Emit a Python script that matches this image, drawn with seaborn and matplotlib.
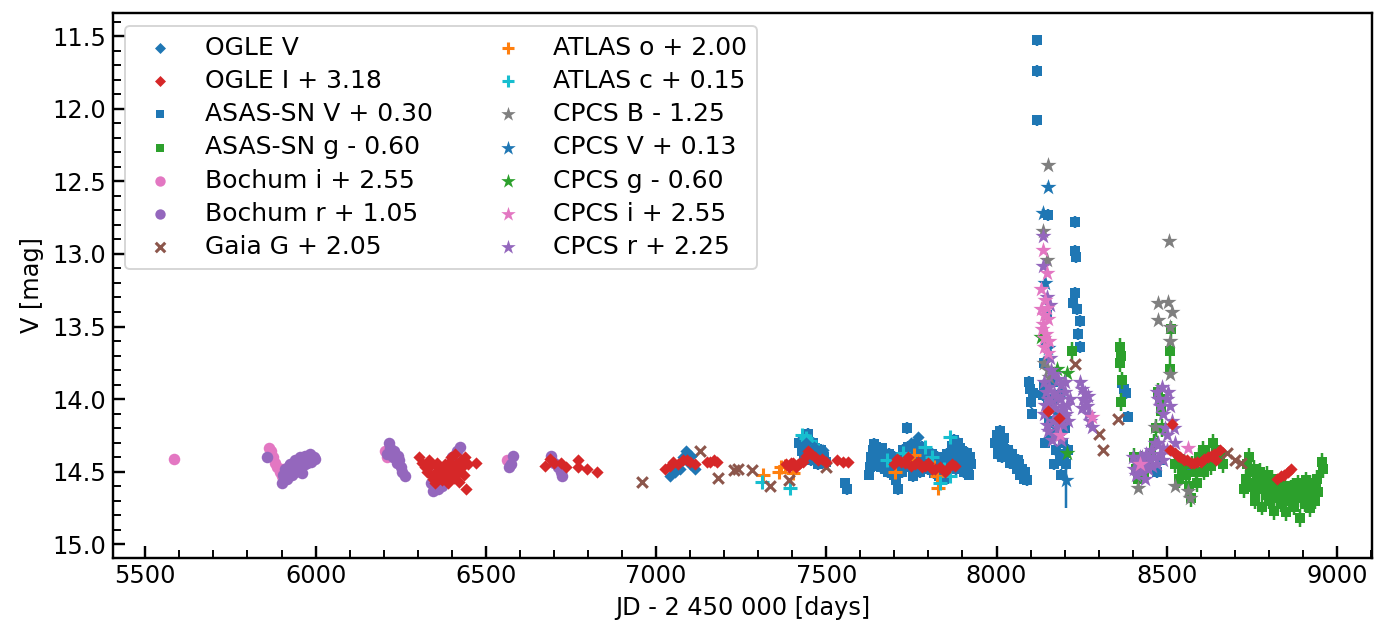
import numpy as np
import pandas as pd
import matplotlib
matplotlib.use("Agg")
import matplotlib.pyplot as plt
from matplotlib.ticker import MultipleLocator
import seaborn as sns

# ---- data (displayed, already shifted magnitudes) ----
ogle_v_jd = [7041, 7055, 7070, 7080, 7088, 7095, 7104, 7114, 7100,
             7428, 7440, 7452, 7465, 7480, 7491, 7770, 7750]
ogle_v_mag = [14.53, 14.50, 14.48, 14.40, 14.36, 14.38, 14.39, 14.48, 14.45,
              14.33, 14.30, 14.37, 14.33, 14.36, 14.35, 14.26, 14.30]

ogle_i_jd = [6305, 6312, 6320, 6328, 6335, 6340, 6345, 6350, 6355, 6360, 6365, 6370,
             6375, 6380, 6385, 6390, 6395, 6398, 6402, 6406, 6410, 6413, 6418, 6422,
             6426, 6430, 6435, 6440, 6443, 6447, 6470, 6332, 6358, 6388, 6416,
             6673, 6688, 6700, 6722, 6735, 6770, 6772, 6796, 6827,
             7026, 7040, 7051, 7065, 7080, 7092, 7100, 7114, 7150, 7158, 7170, 7178,
             7381, 7390, 7395, 7403, 7410, 7418, 7423, 7432, 7440, 7447, 7455, 7467,
             7475, 7486, 7500, 7530, 7550, 7565,
             7700, 7707, 7718, 7730, 7740, 7750, 7760, 7770, 7780, 7790, 7800, 7810,
             7820, 7835, 7850, 7860, 7870, 7878,
             8152, 8184,
             8514, 8510, 8524, 8532, 8540, 8550, 8560, 8570, 8580, 8590, 8600, 8610,
             8620, 8630, 8640, 8645, 8655,
             8825, 8835, 8845, 8855, 8865]
ogle_i_mag = [14.40, 14.44, 14.47, 14.50, 14.46, 14.52, 14.55, 14.58, 14.50, 14.47, 14.53, 14.56,
              14.49, 14.45, 14.52, 14.58, 14.43, 14.40, 14.48, 14.54, 14.38, 14.45, 14.51, 14.57,
              14.42, 14.47, 14.52, 14.40, 14.62, 14.45, 14.44, 14.42, 14.44, 14.48, 14.47,
              14.46, 14.41, 14.44, 14.44, 14.47, 14.42, 14.47, 14.48, 14.50,
              14.48, 14.46, 14.43, 14.45, 14.42, 14.42, 14.43, 14.45, 14.43, 14.43, 14.42, 14.43,
              14.45, 14.47, 14.44, 14.44, 14.47, 14.45, 14.44, 14.43, 14.39, 14.36, 14.38, 14.40,
              14.42, 14.41, 14.43, 14.42, 14.43, 14.43,
              14.45, 14.41, 14.43, 14.44, 14.40, 14.46, 14.45, 14.43, 14.47, 14.46, 14.44, 14.48,
              14.48, 14.47, 14.50, 14.47, 14.45, 14.46,
              14.08, 14.13,
              14.17, 14.35, 14.37, 14.39, 14.40, 14.42, 14.42, 14.44, 14.44, 14.43, 14.43, 14.41,
              14.40, 14.39, 14.38, 14.42, 14.35,
              14.55, 14.53, 14.52, 14.50, 14.48]

asas_v_jd = [7420, 7428, 7435, 7442, 7445, 7450, 7456, 7462, 7470, 7477, 7485, 7492, 7500,
             7432, 7466, 7488,
             7555, 7560,
             7625, 7628, 7632, 7636, 7640, 7645, 7650, 7655, 7660, 7665, 7670, 7675, 7680,
             7685, 7690, 7695, 7700, 7705, 7711, 7716, 7720, 7725, 7730, 7736, 7740, 7745,
             7750, 7755, 7760, 7765, 7770, 7775, 7780, 7785, 7790, 7795, 7800, 7805, 7810,
             7815, 7820, 7825, 7830, 7835, 7840, 7845, 7850, 7855,
             7630, 7642, 7652, 7662, 7672, 7682, 7698, 7708, 7722, 7742, 7758, 7772, 7788,
             7802, 7818, 7832, 7848,
             7862, 7866, 7870, 7874, 7878, 7882, 7886, 7890, 7895, 7900, 7905, 7910, 7915,
             7920, 7925, 7868, 7880, 7892, 7902, 7912, 7922,
             7995, 8000, 8005, 8010, 8015, 8020, 8025, 8030, 8035, 8040, 8045, 8050, 8055,
             8060, 8065, 8070, 8075, 8080, 8085, 8090, 8003, 8012, 8022, 8042, 8062, 8082,
             8095, 8097, 8100, 8103, 8108,
             8118, 8118, 8118,
             8152, 8148, 8145, 8140, 8138, 8135, 8150, 8165, 8170, 8180, 8186, 8195, 8200,
             8205, 8210, 8190, 8155, 8160, 8175, 8185, 8198, 8143, 8168,
             8230, 8230, 8232, 8230, 8226, 8245, 8240, 8245, 8236,
             8368, 8375, 8380, 8386,
             8470, 8480, 8560]
asas_v_mag = [14.30, 14.36, 14.40, 14.27, 14.24, 14.33, 14.42, 14.30, 14.38, 14.45, 14.35, 14.40, 14.43,
              14.32, 14.34, 14.44,
              14.58, 14.62,
              14.52, 14.47, 14.40, 14.35, 14.31, 14.33, 14.38, 14.43, 14.47, 14.34, 14.40, 14.45, 14.50,
              14.38, 14.44, 14.48, 14.52, 14.56, 14.62, 14.50, 14.40, 14.35, 14.45, 14.20, 14.33, 14.39,
              14.47, 14.53, 14.31, 14.42, 14.36, 14.50, 14.33, 14.40, 14.45, 14.38, 14.48, 14.43, 14.38,
              14.51, 14.45, 14.40, 14.53, 14.47, 14.42, 14.55, 14.45, 14.38,
              14.44, 14.38, 14.46, 14.40, 14.48, 14.42, 14.40, 14.46, 14.50, 14.44, 14.40, 14.47, 14.37,
              14.42, 14.40, 14.44, 14.50,
              14.45, 14.38, 14.32, 14.28, 14.35, 14.42, 14.30, 14.38, 14.45, 14.36, 14.50, 14.42, 14.47,
              14.52, 14.45, 14.44, 14.48, 14.34, 14.42, 14.37, 14.40,
              14.30, 14.25, 14.35, 14.22, 14.40, 14.30, 14.36, 14.40, 14.35, 14.44, 14.38, 14.45, 14.42,
              14.48, 14.45, 14.52, 14.48, 14.55, 14.50, 14.56, 14.38, 14.30, 14.27, 14.40, 14.42, 14.50,
              13.88, 13.93, 14.02, 14.10, 13.96,
              11.53, 11.74, 12.08,
              12.73, 13.42, 13.60, 13.75, 13.90, 13.97, 14.05, 13.88, 14.00, 14.10, 14.42, 14.30, 14.20,
              14.45, 14.35, 14.52, 14.15, 14.25, 14.35, 14.22, 14.38, 14.30, 14.45,
              12.78, 12.98, 13.02, 13.27, 13.34, 13.46, 13.55, 13.64, 13.38,
              13.89, 13.93, 13.96, 14.12,
              14.50, 14.42, 14.50]
asas_v_err = 0.04

asas_g_jd = [8221,
             8363, 8365, 8363, 8368, 8366,
             8405, 8410, 8415, 8420, 8425, 8432, 8440, 8448, 8455, 8462, 8468,
             8475, 8480, 8482, 8485,
             8509, 8509, 8512,
             8525, 8535, 8545, 8555, 8565, 8575, 8585, 8595, 8605, 8615, 8625, 8635, 8645,
             8655, 8665, 8570, 8590, 8550, 8610, 8630,
             8728, 8732, 8736, 8740, 8745, 8750, 8755, 8760, 8765, 8770, 8775, 8780, 8785,
             8790, 8795, 8800, 8805, 8810, 8815, 8820, 8825, 8830, 8835, 8840, 8845, 8850,
             8855, 8860, 8865, 8870, 8875, 8880, 8885, 8890, 8895, 8900, 8905, 8910, 8915,
             8920, 8925, 8930, 8935, 8940, 8945, 8955, 8960,
             8742, 8758, 8772, 8788, 8802, 8818, 8832, 8848, 8862, 8878, 8892, 8908, 8922, 8938]
asas_g_mag = [13.67,
              13.64, 13.70, 13.75, 13.87, 14.02,
              14.40, 14.48, 14.55, 14.45, 14.42, 14.50, 14.45, 14.40, 14.38, 14.30, 14.20,
              13.95, 14.00, 14.08, 14.20,
              13.67, 13.79, 13.52,
              14.45, 14.55, 14.48, 14.52, 14.60, 14.45, 14.50, 14.40, 14.35, 14.45, 14.40, 14.30, 14.35,
              14.38, 14.45, 14.68, 14.58, 14.44, 14.50, 14.46,
              14.62, 14.55, 14.45, 14.40, 14.50, 14.60, 14.48, 14.70, 14.55, 14.62, 14.50, 14.74, 14.58,
              14.66, 14.52, 14.70, 14.60, 14.55, 14.77, 14.62, 14.68, 14.58, 14.72, 14.64, 14.60, 14.78,
              14.66, 14.70, 14.62, 14.60, 14.74, 14.66, 14.58, 14.82, 14.68, 14.62, 14.72, 14.56, 14.66,
              14.75, 14.62, 14.58, 14.70, 14.55, 14.64, 14.43, 14.48,
              14.58, 14.64, 14.56, 14.62, 14.64, 14.58, 14.64, 14.60, 14.66, 14.62, 14.60, 14.66, 14.60, 14.62]
asas_g_err = 0.06

bochum_i_jd = [5585, 5862, 5868, 5875, 5882, 5888, 5895, 5900, 5905, 6205, 6210, 6563]
bochum_i_mag = [14.415, 14.34, 14.36, 14.40, 14.44, 14.47, 14.50, 14.53, 14.48, 14.36, 14.40, 14.42]

bochum_r_jd = [5858, 5902, 5905, 5910, 5915, 5920, 5925, 5930, 5935, 5940, 5945, 5950, 5955,
               5960, 5965, 5970, 5975, 5980, 5985, 5990, 5995, 5940, 5960,
               5912, 5922, 5932, 5948, 5958, 5968, 5978, 5988, 5998, 5952, 5972,
               6210, 6215, 6220, 6225, 6230, 6235, 6240, 6245, 6250, 6255, 6262, 6228, 6242,
               6340, 6346, 6360, 6370, 6400, 6415, 6424, 6430,
               6567, 6575, 6580,
               6690, 6700, 6712, 6720, 6725]
bochum_r_mag = [14.40, 14.575, 14.52, 14.48, 14.55, 14.50, 14.45, 14.52, 14.47, 14.42, 14.49, 14.44, 14.40,
                14.46, 14.42, 14.39, 14.44, 14.40, 14.38, 14.42, 14.40, 14.50, 14.51,
                14.53, 14.46, 14.49, 14.46, 14.43, 14.45, 14.41, 14.43, 14.41, 14.48, 14.40,
                14.38, 14.30, 14.34, 14.38, 14.36, 14.41, 14.44, 14.42, 14.47, 14.50, 14.53, 14.40, 14.39,
                14.58, 14.63, 14.62, 14.60, 14.40, 14.36, 14.33, 14.45,
                14.47, 14.45, 14.39,
                14.39, 14.44, 14.47, 14.50, 14.53]

gaia_jd = [6960, 7129, 7181, 7230, 7241, 7283, 7336, 7391, 7500,
           8230, 8302, 8314, 8356, 8676, 8700, 8718]
gaia_mag = [14.57, 14.36, 14.54, 14.49, 14.48, 14.49, 14.60, 14.56, 14.47,
            13.76, 14.24, 14.35, 14.14, 14.37, 14.42, 14.44]

atlas_o_jd = [7315, 7362, 7368, 7380, 7403, 7702, 7740, 7758, 7815, 7824, 7829]
atlas_o_mag = [14.52, 14.50, 14.47, 14.46, 14.51, 14.50, 14.42, 14.385, 14.47, 14.53, 14.61]

atlas_c_jd = [7310, 7393, 7428, 7440, 7452, 7475, 7677, 7726, 7790, 7810, 7834, 7845, 7863, 7863]
atlas_c_mag = [14.57, 14.61, 14.25, 14.27, 14.29, 14.35, 14.42, 14.37, 14.33, 14.40, 14.58, 14.48, 14.26, 14.53]

cpcs_b_jd = [8137, 8147, 8152, 8140, 8150, 8155,
             8416, 8465, 8475, 8475, 8505, 8507, 8514, 8509, 8509, 8509, 8524, 8563, 8568]
cpcs_b_mag = [12.84, 13.04, 12.39, 13.75, 13.80, 13.85,
              14.615, 14.19, 13.34, 13.455, 13.33, 12.91, 13.40, 13.50, 13.60, 13.83, 14.60, 14.63, 14.68]

cpcs_v_jd = [8152, 8135, 8142, 8150, 8175, 8190, 8204]
cpcs_v_mag = [12.54, 12.72, 13.20, 13.65, 14.20, 13.95, 14.56]
cpcs_v_err = [0.03, 0.03, 0.04, 0.05, 0.08, 0.06, 0.19]

cpcs_g_jd = [8130, 8177, 8206, 8208, 8470]
cpcs_g_mag = [13.57, 13.79, 13.82, 14.37, 14.30]

cpcs_i_jd = [8137, 8147, 8132, 8130, 8140, 8135, 8150, 8145, 8155, 8140, 8148,
             8133, 8143, 8152, 8138, 8186, 8279, 8563, 8420]
cpcs_i_mag = [12.97, 13.13, 13.24, 13.38, 13.42, 13.48, 13.45, 13.55, 13.60, 13.64, 13.37,
              13.52, 13.32, 13.68, 13.58, 14.25, 14.12, 14.34, 14.45]

cpcs_r_jd = [8135, 8137, 8147, 8157, 8160, 8170, 8180, 8190, 8200, 8140, 8145, 8150, 8160,
             8172, 8185, 8195, 8205, 8140, 8148, 8165, 8180, 8195, 8210, 8175, 8190, 8215, 8200,
             8155, 8168, 8178, 8188, 8198, 8208, 8150, 8162, 8182, 8158, 8142,
             8245, 8250, 8255, 8260, 8265, 8270, 8275, 8279, 8262, 8252, 8268,
             8400, 8405, 8410, 8415, 8420, 8425, 8430, 8435, 8440, 8445, 8450, 8455, 8460,
             8465, 8470, 8480, 8490, 8500, 8412, 8428, 8442, 8458, 8475, 8488,
             8470, 8475, 8480, 8485, 8490, 8500, 8505, 8510, 8515, 8520, 8524, 8500, 8495]
cpcs_r_mag = [12.88, 13.08, 13.30, 13.35, 13.80, 13.83, 13.86, 13.90, 13.88, 13.88, 13.95, 14.00, 14.02,
              14.06, 14.00, 14.05, 14.10, 14.10, 14.18, 14.15, 14.20, 14.18, 14.15, 14.25, 14.28, 14.00, 13.95,
              13.92, 13.96, 13.98, 14.08, 14.12, 14.04, 14.22, 14.28, 14.12, 13.72, 14.04,
              13.88, 13.93, 14.00, 13.96, 14.05, 14.10, 14.15, 14.19, 14.02, 14.06, 13.98,
              14.40, 14.48, 14.52, 14.45, 14.40, 14.50, 14.44, 14.55, 14.38, 14.48, 14.42, 14.35, 14.40,
              14.30, 14.45, 14.38, 14.42, 14.35, 14.44, 14.40, 14.46, 14.46, 14.30, 14.34,
              13.95, 14.00, 14.05, 13.92, 14.10, 14.00, 13.95, 14.05, 14.15, 14.20, 14.30, 14.25, 14.20]

# label, jd, mag, yerr, marker, colour, size (pt), zorder
series = [
    ("OGLE V", ogle_v_jd, ogle_v_mag, None, "D", "tab:blue", 4.5, 3.0),
    ("OGLE I + 3.18", ogle_i_jd, ogle_i_mag, None, "D", "tab:red", 4.5, 3.1),
    ("ASAS-SN V + 0.30", asas_v_jd, asas_v_mag, asas_v_err, "s", "tab:blue", 4.8, 1.5),
    ("ASAS-SN g - 0.60", asas_g_jd, asas_g_mag, asas_g_err, "s", "tab:green", 4.8, 1.6),
    ("Bochum i + 2.55", bochum_i_jd, bochum_i_mag, None, "o", "tab:pink", 6.0, 2.0),
    ("Bochum r + 1.05", bochum_r_jd, bochum_r_mag, None, "o", "tab:purple", 6.0, 2.1),
    ("Gaia G + 2.05", gaia_jd, gaia_mag, None, "x", "tab:brown", 5.5, 2.4),
    ("ATLAS o + 2.00", atlas_o_jd, atlas_o_mag, None, "+", "tab:orange", 7.0, 2.2),
    ("ATLAS c + 0.15", atlas_c_jd, atlas_c_mag, None, "+", "tab:cyan", 7.0, 2.3),
    ("CPCS B - 1.25", cpcs_b_jd, cpcs_b_mag, None, "*", "tab:gray", 8.8, 2.5),
    ("CPCS V + 0.13", cpcs_v_jd, cpcs_v_mag, cpcs_v_err, "*", "tab:blue", 8.8, 2.5),
    ("CPCS g - 0.60", cpcs_g_jd, cpcs_g_mag, None, "*", "tab:green", 8.8, 2.5),
    ("CPCS i + 2.55", cpcs_i_jd, cpcs_i_mag, None, "*", "tab:pink", 8.8, 2.6),
    ("CPCS r + 2.25", cpcs_r_jd, cpcs_r_mag, None, "*", "tab:purple", 8.8, 2.55),
]

sns.set_theme(style="ticks", rc={
    "font.size": 12.5, "axes.labelsize": 12.5, "xtick.labelsize": 12.5,
    "ytick.labelsize": 12.5, "legend.fontsize": 13,
    "xtick.direction": "in", "ytick.direction": "in",
    "text.color": "black", "axes.labelcolor": "black", "axes.edgecolor": "black",
    "xtick.color": "black", "ytick.color": "black",
})
plt.rcParams["font.family"] = ["DejaVu Sans"]

fig = plt.figure(figsize=(10, 4.487), dpi=138.4)
ax = fig.add_axes([0.0814, 0.102, 0.91, 0.877])

handles, labels = [], []
for label, jd, mag, err, marker, color, ms, z in series:
    df = pd.DataFrame({"jd": jd, "mag": mag})
    if err is not None:
        ax.errorbar(df["jd"], df["mag"], yerr=err, fmt="none", ecolor=color,
                    elinewidth=1.3, capsize=0, zorder=z)
    if marker in ("x", "+"):
        sns.scatterplot(data=df, x="jd", y="mag", marker=marker, color=color,
                        s=ms ** 2, linewidth=1.6, edgecolor=None, zorder=z, ax=ax)
    else:
        sns.scatterplot(data=df, x="jd", y="mag", marker=marker, color=color,
                        s=ms ** 2, linewidth=0, zorder=z, ax=ax)
    handles.append(ax.collections[-1])
    labels.append(label)

ax.set_xlim(5404, 9103)
ax.set_ylim(15.092, 11.341)
ax.xaxis.set_major_locator(MultipleLocator(500))
ax.xaxis.set_minor_locator(MultipleLocator(100))
ax.yaxis.set_major_locator(MultipleLocator(0.5))
ax.yaxis.set_minor_locator(MultipleLocator(0.1))
ax.tick_params(which="both", direction="in")
ax.set_xlabel("JD - 2 450 000 [days]")
ax.set_ylabel("V [mag]")

leg = ax.legend(handles, labels, ncol=2, loc="upper left", frameon=True,
                labelspacing=0.37, markerscale=0.9)

fig.savefig("out.png", dpi=138.4)
